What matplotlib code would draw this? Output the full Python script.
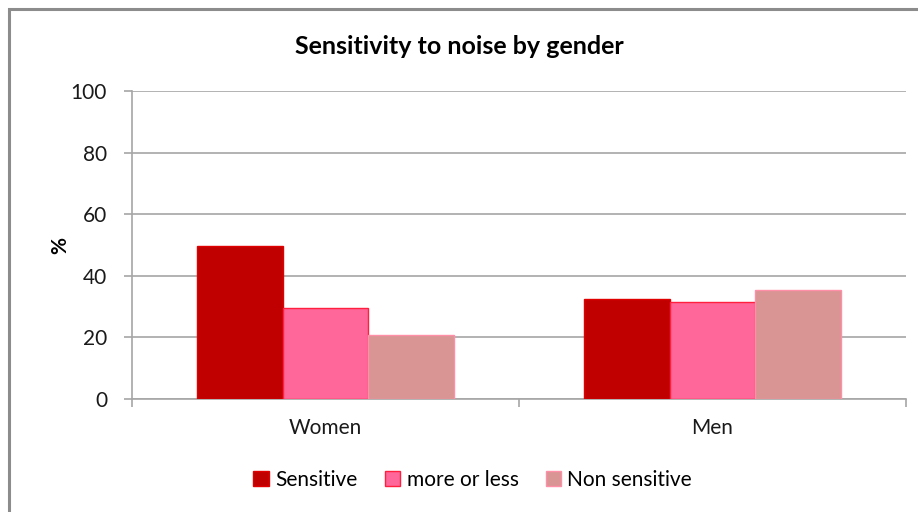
import numpy as np
import matplotlib.pyplot as plt
from matplotlib.patches import Rectangle

groups = ['Women', 'Men']
series = ['Sensitive', 'more or less', 'Non sensitive']
sensitive = [49.7, 32.6]
more_or_less = [29.6, 31.4]
non_sensitive = [20.8, 35.4]

faces = ['#C00000', '#FF6699', '#D99594']
edges = ['#E00000', '#FF1F3F', '#FF8FA8']

plt.rcParams['font.family'] = ['Lato', 'DejaVu Sans']

fig = plt.figure(figsize=(9.18, 5.12), dpi=100)
# outer chart frame
fig.patches.append(Rectangle((9 / 918, -0.1), 1.2, 1 - 9 / 512 + 0.1,
                             transform=fig.transFigure, fill=False,
                             edgecolor='#8C8C8C', linewidth=2.2))

ax = fig.add_axes([132 / 918, 1 - 399 / 512, 774 / 918, 308 / 512])

x = np.arange(len(groups))
w = 0.222
for i, vals in enumerate([sensitive, more_or_less, non_sensitive]):
    ax.bar(x + (i - 1) * w, vals, w, color=faces[i], edgecolor=edges[i],
           linewidth=1, label=series[i], zorder=3)

ax.set_xlim(-0.5, 1.5)
ax.set_ylim(0, 100)
ax.set_yticks(range(0, 101, 20))
ax.yaxis.grid(True, color='#A6A6A6', linewidth=1.2, zorder=0)

for s in ['top', 'right']:
    ax.spines[s].set_visible(False)
ax.spines['left'].set_color('#A6A6A6')
ax.spines['bottom'].set_color('#A6A6A6')
ax.spines['left'].set_linewidth(1.2)
ax.spines['bottom'].set_linewidth(1.2)

# category boundaries as major ticks, labels in between
ax.set_xticks([-0.5, 0.5, 1.5])
ax.set_xticklabels([])
ax.set_xticks(x, minor=True)
ax.set_xticklabels(groups, minor=True, fontsize=15, color='#1a1a1a')
ax.tick_params(axis='x', which='major', length=6, color='#A6A6A6', width=1.2)
ax.tick_params(axis='x', which='minor', length=0, pad=14)
ax.tick_params(axis='y', length=6, color='#A6A6A6', width=1.2,
               labelsize=15, labelcolor='#1a1a1a', pad=12)

ax.set_ylabel('%', fontsize=15, fontweight='bold', labelpad=0)

fig.text(0.5, 1 - 47 / 512, 'Sensitivity to noise by gender', ha='center',
         va='center', fontsize=18, fontweight='bold')

fig.legend(loc='center', bbox_to_anchor=(0.515, 1 - 480 / 512), ncol=3,
           frameon=False, fontsize=15, handlelength=0.75, handleheight=0.75,
           handletextpad=0.3, columnspacing=1.3)

fig.savefig('out.png', dpi=100)
